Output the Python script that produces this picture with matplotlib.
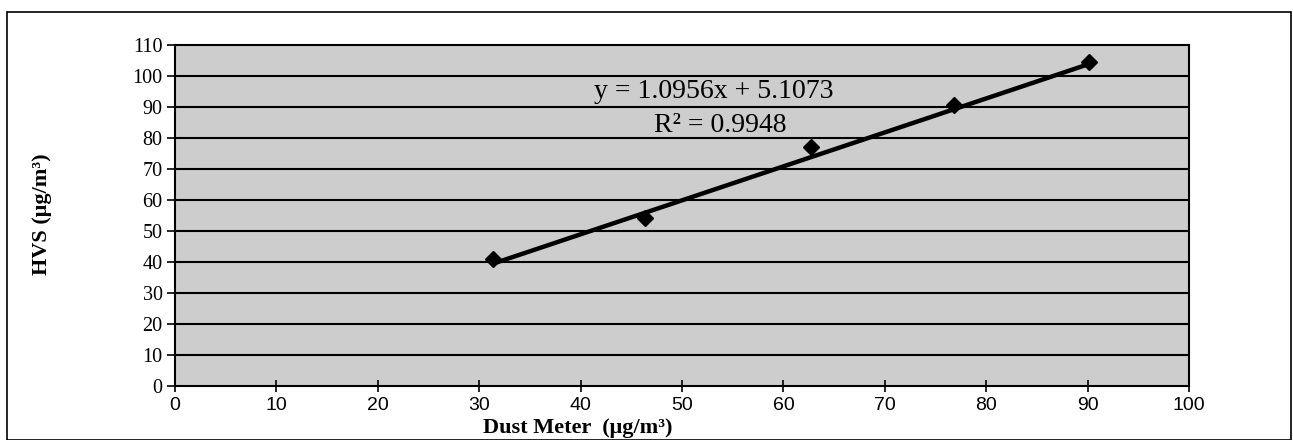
import matplotlib
matplotlib.use("Agg")
import matplotlib.pyplot as plt
import numpy as np
from matplotlib.patches import Rectangle

dust_meter = [31.4, 46.4, 62.7, 76.8, 90.1]
hvs = [41.0, 54.2, 77.0, 90.5, 104.5]
slope, intercept = 1.0956, 5.1073
eq_text = "y = 1.0956x + 5.1073"
r2_text = "R² = 0.9948"
x_ticks = list(range(0, 101, 10))
y_ticks = list(range(0, 111, 10))

fig = plt.figure(figsize=(12.93, 4.40), dpi=100)
fig.patch.set_facecolor("white")
fig.patches.append(Rectangle((7/1293, 0.0), 1284/1293, 1 - 12/440, transform=fig.transFigure,
                             fill=False, edgecolor="black", linewidth=1.2))

ax = fig.add_axes([175/1293, 1 - 386/440, (1189 - 175)/1293, (386 - 45)/440])
ax.set_facecolor("#cdcdcd")
ax.set_xlim(0, 100)
ax.set_ylim(0, 110)
for y in y_ticks[1:-1]:
    ax.axhline(y, color="black", linewidth=1.5, zorder=1)

xs = np.array([min(dust_meter), max(dust_meter)])
ax.plot(xs, slope * xs + intercept, color="black", linewidth=3.2, zorder=3)
ax.plot(dust_meter, hvs, linestyle="none", marker="D", markersize=8,
        color="black", zorder=4)

ax.set_xticks(x_ticks)
ax.set_yticks(y_ticks)
ax.set_xticklabels([str(v) for v in x_ticks], fontfamily="Liberation Sans", fontsize=14)
ax.set_yticklabels([str(v) for v in y_ticks], fontfamily="Liberation Serif", fontsize=14.5)
ax.tick_params(axis="x", direction="inout", length=8, width=1.2, pad=4)
ax.tick_params(axis="y", direction="out", length=6, width=1.2, pad=3)
for s in ax.spines.values():
    s.set_linewidth(1.5)
    s.set_color("black")

ax.text((714 - 175) / (1189 - 175), (386 - 91) / (386 - 45), eq_text, transform=ax.transAxes,
        ha="center", va="center", fontfamily="Liberation Serif", fontsize=20)
ax.text((720 - 175) / (1189 - 175), (386 - 125) / (386 - 45), r2_text, transform=ax.transAxes,
        ha="center", va="center", fontfamily="Liberation Serif", fontsize=20)

fig.text(578/1293, 1 - 428/440, "Dust Meter  (μg/m³)", ha="center", va="center",
         fontfamily="Liberation Serif", fontweight="bold", fontsize=16)
fig.text(42/1293, 1 - 214/440, "HVS (μg/m³)", ha="center", va="center", rotation=90,
         fontfamily="Liberation Serif", fontweight="bold", fontsize=16)

fig.savefig("out.png", dpi=100)
